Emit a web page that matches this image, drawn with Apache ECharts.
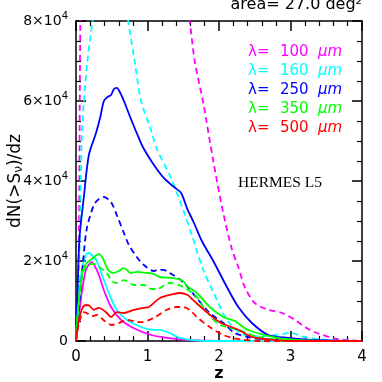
<!DOCTYPE html>
<html><head><meta charset="utf-8">
<script src="https://cdn.jsdelivr.net/npm/echarts@6/dist/echarts.min.js"></script>
<style>html,body{margin:0;padding:0;background:#fff}#c{width:382px;height:382px}</style>
</head><body><div id="c"></div>
<script>
// values in units of 10^4 ; x = redshift z
const wavelengths = ['100', '160', '250', '350', '500'];
const colors = ['#ff00ff', '#00ffff', '#0000ff', '#00ff00', '#ff0000'];
const xTicks = [0, 1, 2, 3, 4];
const yTicks = [0, 2, 4, 6, 8];

const m100Solid = [[0,0],[0.04,0.6],[0.08,1.2],[0.14,1.78],[0.22,1.97],[0.27,1.85],[0.32,1.65],[0.39,1.27],[0.49,0.85],[0.63,0.53],[0.81,0.32],[1.05,0.15],[1.3,0.07],[1.6,0.02],[2.0,0],[4,0]];
const m100Dashed = [[0,0],[0.02,0.4],[0.04,2.4],[0.06,8.0],[0.08,11],[0.15,14],[0.3,15.5],[0.6,16],[0.9,15],[1.2,12.5],[1.45,9.6],[1.59,8.0],[1.66,7.0],[1.78,5.95],[1.92,4.5],[2.06,3.2],[2.18,2.3],[2.27,1.85],[2.36,1.35],[2.5,0.95],[2.69,0.78],[2.88,0.7],[3.06,0.53],[3.2,0.35],[3.37,0.2],[3.65,0.05],[4,0]];
const c160Solid = [[0,0],[0.03,0.8],[0.07,1.6],[0.11,2.0],[0.17,2.2],[0.22,2.15],[0.29,2.0],[0.39,1.52],[0.49,1.07],[0.57,0.78],[0.71,0.53],[0.91,0.35],[1.09,0.28],[1.17,0.28],[1.31,0.2],[1.45,0.08],[1.7,0.01],[2,0],[4,0]];
const c160Dashed = [[0,0],[0.03,1.2],[0.05,2.4],[0.08,5.0],[0.11,6.0],[0.16,7.0],[0.23,8.0],[0.3,9.2],[0.45,10.2],[0.6,9.5],[0.73,8.0],[0.82,7.0],[0.91,6.0],[1.05,5.27],[1.13,4.8],[1.33,4.07],[1.51,3.22],[1.62,2.65],[1.7,2.2],[1.78,1.78],[1.97,1.03],[2.11,0.53],[2.3,0.2],[2.5,0.12],[2.8,0.15],[3.0,0.2],[3.2,0.1],[3.5,0.03],[4,0]];
const b250Solid = [[0,0],[0.02,1.2],[0.05,2.6],[0.11,3.6],[0.18,4.65],[0.28,5.2],[0.34,5.6],[0.39,6.0],[0.44,6.1],[0.49,6.15],[0.53,6.3],[0.57,6.33],[0.62,6.2],[0.67,6.0],[0.78,5.5],[0.88,5.07],[0.95,4.8],[1.09,4.4],[1.23,4.07],[1.37,3.85],[1.47,3.7],[1.55,3.33],[1.65,2.95],[1.76,2.5],[1.92,2.0],[2.11,1.35],[2.27,0.85],[2.46,0.45],[2.69,0.15],[2.97,0.08],[3.3,0.03],[4,0]];
const b250Dashed = [[0,0],[0.05,1.0],[0.1,2.0],[0.15,2.8],[0.25,3.4],[0.32,3.55],[0.39,3.6],[0.49,3.47],[0.57,3.15],[0.67,2.7],[0.74,2.4],[0.85,2.1],[0.95,1.9],[1.09,1.75],[1.15,1.78],[1.22,1.78],[1.31,1.7],[1.5,1.47],[1.69,1.07],[1.87,0.7],[2.06,0.45],[2.22,0.2],[2.4,0.1],[2.6,0.05],[3.0,0.02],[4,0]];
const g350Solid = [[0,0],[0.02,0.6],[0.05,1.2],[0.1,1.78],[0.15,1.95],[0.22,2.05],[0.29,2.15],[0.32,2.17],[0.38,2.05],[0.44,1.8],[0.52,1.7],[0.6,1.75],[0.66,1.82],[0.71,1.78],[0.76,1.7],[0.85,1.73],[0.99,1.7],[1.08,1.68],[1.17,1.6],[1.36,1.57],[1.5,1.5],[1.55,1.38],[1.69,1.2],[1.87,0.85],[2.06,0.6],[2.22,0.5],[2.4,0.28],[2.64,0.15],[2.92,0.05],[3.4,0],[4,0]];
const g350Dashed = [[0,0],[0.02,0.6],[0.07,1.5],[0.12,1.8],[0.17,1.9],[0.25,1.93],[0.32,1.85],[0.43,1.7],[0.5,1.5],[0.56,1.45],[0.67,1.52],[0.75,1.45],[0.81,1.4],[0.95,1.4],[1.05,1.3],[1.13,1.3],[1.31,1.45],[1.5,1.35],[1.69,1.1],[1.78,0.85],[1.97,0.45],[2.1,0.35],[2.27,0.28],[2.55,0.1],[3.0,0.02],[4,0]];
const r500Solid = [[0,0],[0.02,0.3],[0.04,0.53],[0.09,0.82],[0.14,0.9],[0.19,0.88],[0.25,0.78],[0.32,0.83],[0.42,0.72],[0.49,0.6],[0.57,0.72],[0.67,0.7],[0.81,0.78],[0.95,0.83],[1.02,0.85],[1.17,1.07],[1.36,1.17],[1.45,1.2],[1.56,1.15],[1.64,1.02],[1.83,0.72],[2.01,0.47],[2.27,0.28],[2.46,0.1],[2.7,0.04],[3.0,0],[4,0]];
const r500Dashed = [[0,0],[0.03,0.35],[0.07,0.62],[0.1,0.72],[0.15,0.7],[0.22,0.62],[0.29,0.65],[0.4,0.5],[0.5,0.4],[0.6,0.45],[0.71,0.53],[0.8,0.5],[0.9,0.47],[1.08,0.57],[1.27,0.78],[1.41,0.85],[1.5,0.85],[1.59,0.78],[1.69,0.6],[1.87,0.35],[2.06,0.15],[2.3,0.04],[2.6,0],[4,0]];

const solids = [m100Solid, c160Solid, b250Solid, g350Solid, r500Solid];
const dasheds = [m100Dashed, c160Dashed, b250Dashed, g350Dashed, r500Dashed];

const chart = echarts.init(document.getElementById('c'), null, {renderer: 'canvas'});
const series = [];
for (let i = 0; i < 5; i++) {
  series.push({type: 'line', data: dasheds[i], showSymbol: false, smooth: 0.3, clip: true,
    lineStyle: {color: colors[i], width: 1.8, type: [6, 4]}, silent: true, animation: false});
  series.push({type: 'line', data: solids[i], showSymbol: false, smooth: 0.3, clip: true,
    lineStyle: {color: colors[i], width: 1.8}, silent: true, animation: false});
}

const tickCommon = {
  axisLine: {show: true, onZero: false, lineStyle: {color: '#000', width: 1.5}},
  axisTick: {show: true, inside: true, length: 10, lineStyle: {color: '#000', width: 1.5}},
  splitLine: {show: false}
};
const xMinor = {minorTick: {show: true, splitNumber: 5, length: 5, lineStyle: {color: '#000', width: 1.2}}};
const yMinor = {minorTick: {show: true, splitNumber: 4, length: 5, lineStyle: {color: '#000', width: 1.2}}};

const graphic = [
  {type: 'text', right: 20, top: -3, style: {text: 'area= 27.0 deg²', font: '16px "DejaVu Sans"', fill: '#000'}},
  {type: 'text', left: 238, top: 175, style: {text: 'HERMES L5', font: '15.5px "Liberation Serif"', fill: '#000'}}
];
for (let i = 0; i < 5; i++) {
  const y = 52.5 + 19 * i;
  graphic.push({type: 'text', x: 248, y: y, style: {text: 'λ=', font: '15px "DejaVu Sans"', fill: colors[i], verticalAlign: 'middle'}});
  graphic.push({type: 'text', x: 280, y: y, style: {text: wavelengths[i], font: '15px "DejaVu Sans"', fill: colors[i], verticalAlign: 'middle'}});
  graphic.push({type: 'text', x: 318, y: y, style: {text: 'μm', font: 'italic 15px "DejaVu Sans"', fill: colors[i], verticalAlign: 'middle'}});
}

chart.setOption({
  animation: false,
  backgroundColor: '#fff',
  grid: {left: 76, right: 20, top: 21, bottom: 41, containLabel: false, outerBoundsMode: 'none'},
  xAxis: [
    Object.assign({type: 'value', position: 'bottom', min: 0, max: 4, interval: 1,
      axisLabel: {show: true, margin: 9, color: '#000', fontSize: 15, fontFamily: 'DejaVu Sans',
        formatter: v => xTicks.includes(v) ? String(v) : ''},
      name: 'z', nameLocation: 'middle', nameGap: 25, nameMoveOverlap: false,
      nameTextStyle: {color: '#000', fontSize: 16, fontWeight: 'bold', fontFamily: 'DejaVu Sans'}}, tickCommon, xMinor),
    Object.assign({type: 'value', position: 'top', min: 0, max: 4, interval: 1,
      axisLabel: {show: false}}, tickCommon, xMinor)
  ],
  yAxis: [
    Object.assign({type: 'value', position: 'left', min: 0, max: 8, interval: 2,
      axisLabel: {show: true, margin: 8, color: '#000', fontSize: 14, fontFamily: 'DejaVu Sans',
        formatter: v => yTicks.includes(v) ? (v === 0 ? '0' : v + '×10{sup|4}') : '',
        rich: {sup: {fontSize: 10, fontFamily: 'DejaVu Sans', color: '#000', padding: [0, 0, 9, 0]}}},
      name: 'dN(>S{s|ν})/dz', nameLocation: 'middle', nameGap: 51, nameRotate: 90, nameMoveOverlap: false,
      nameTextStyle: {color: '#000', fontSize: 17, fontFamily: 'DejaVu Sans',
        rich: {s: {fontSize: 12, fontFamily: 'DejaVu Sans', color: '#000', padding: [6, 0, 0, 0]}}}}, tickCommon, yMinor),
    Object.assign({type: 'value', position: 'right', min: 0, max: 8, interval: 2,
      axisLabel: {show: false}}, tickCommon, yMinor)
  ],
  series: series,
  graphic: graphic
});
</script></body></html>
